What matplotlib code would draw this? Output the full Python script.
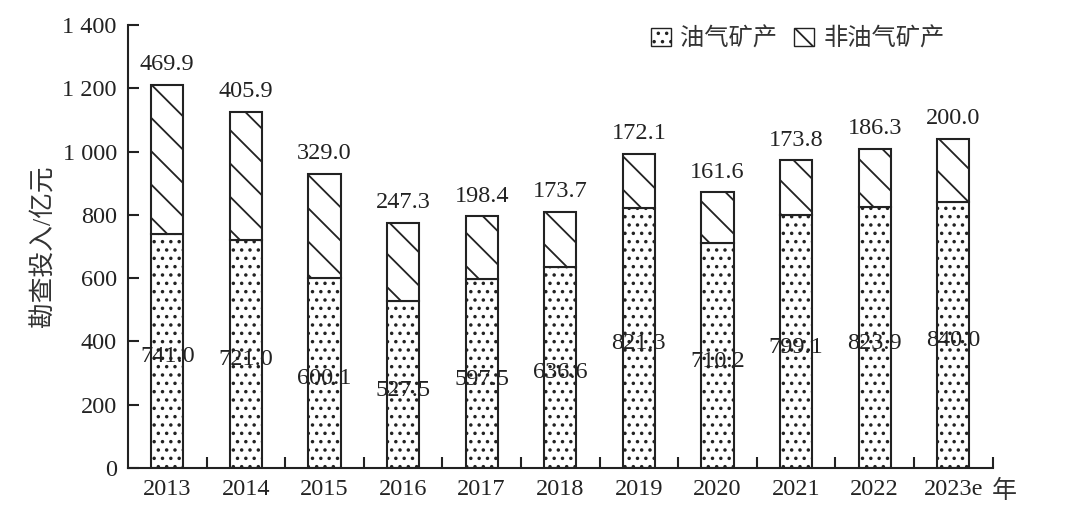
import matplotlib
matplotlib.use('Agg')
import matplotlib.pyplot as plt
from matplotlib.patches import Patch
import numpy as np

plt.rcParams['font.family'] = ['Liberation Serif', 'Noto Sans CJK SC']
plt.rcParams['hatch.linewidth'] = 1.3

# data
years = ['2013', '2014', '2015', '2016', '2017', '2018', '2019', '2020', '2021', '2022', '2023e']
oil_gas = [741.0, 721.0, 600.1, 527.5, 597.5, 636.6, 821.3, 710.2, 799.1, 823.9, 840.0]
non_oil = [469.9, 405.9, 329.0, 247.3, 198.4, 173.7, 172.1, 161.6, 173.8, 186.3, 200.0]
yticks = [0, 200, 400, 600, 800, 1000, 1200, 1400]
ytick_labels = ['0', '200', '400', '600', '800', '1 000', '1 200', '1 400']

fig = plt.figure(figsize=(10.8, 5.15), dpi=100)
ax = fig.add_axes([0.1185, 0.0913, 0.8005, 0.8597])

x = np.arange(len(years))
w = 0.41
ax.bar(x, oil_gas, w, color='white', edgecolor='#222222', linewidth=1.5, hatch='..')
ax.bar(x, non_oil, w, bottom=oil_gas, color='white', edgecolor='#222222', linewidth=1.5, hatch='\\')

# value labels
for xi, a, b in zip(x, oil_gas, non_oil):
    ax.annotate(f'{a:.1f}', (xi, a / 2), xytext=(0, -4), textcoords='offset points',
                ha='center', va='center', fontsize=17.5, color='#222222')
    ax.annotate(f'{b:.1f}', (xi, a + b), xytext=(0, 7), textcoords='offset points',
                ha='center', va='bottom', fontsize=17.5, color='#222222')

ax.set_xlim(-0.5, len(years) - 0.5)
ax.set_ylim(0, 1400)
ax.set_yticks(yticks)
ax.set_yticklabels(ytick_labels)
ax.set_xticks(x)
ax.set_xticklabels(years)
ax.set_xticks(x + 0.5, minor=True)
ax.tick_params(axis='x', which='major', length=0, labelsize=17.5, pad=8, colors='#222222')
ax.tick_params(axis='x', which='minor', direction='in', length=8, width=1.5, color='#222222')
ax.tick_params(axis='y', direction='in', length=8, width=1.5, labelsize=17.5, pad=8, colors='#222222')

for s in ['top', 'right']:
    ax.spines[s].set_visible(False)
for s in ['left', 'bottom']:
    ax.spines[s].set_linewidth(1.5)
    ax.spines[s].set_color('#222222')

ax.set_ylabel('勘查投入/亿元', fontsize=18.5, color='#333333', labelpad=5)
fig.text(992 / 1080, 1 - 491 / 515, '年', fontsize=18, ha='left', va='center', color='#333333')

handles = [Patch(facecolor='white', edgecolor='#222222', hatch='..', label='油气矿产'),
           Patch(facecolor='white', edgecolor='#222222', hatch='\\', label='非油气矿产')]
ax.legend(handles=handles, loc='upper right', bbox_to_anchor=(0.97, 1.045), ncol=2, frameon=False,
          fontsize=17.5, handlelength=0.8, handleheight=0.8, handletextpad=0.4, columnspacing=0.7,
          labelcolor='#333333')

fig.savefig('out.png', dpi=100)
